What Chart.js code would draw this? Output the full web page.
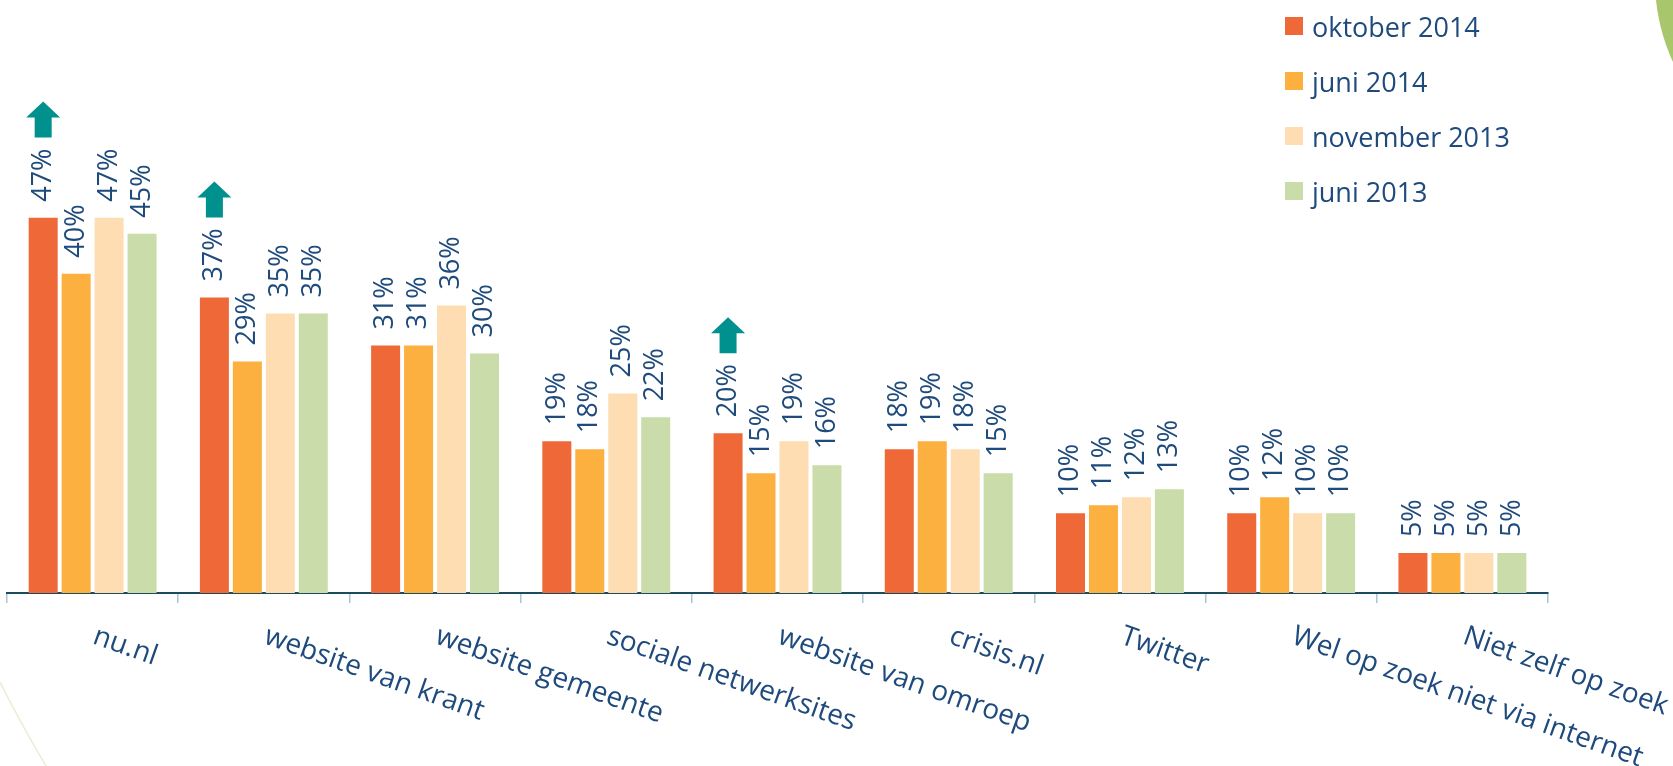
<!DOCTYPE html>
<html>
<head>
<meta charset="utf-8">
<script src="https://cdn.jsdelivr.net/npm/chart.js@4/dist/chart.umd.min.js"></script>
<style>
    html, body { margin: 0; padding: 0; background: #fff; }
    #wrap { position: relative; width: 1673px; height: 766px; overflow: hidden; }
    #legend { position: absolute; left: 1285px; top: 8px; font-family: 'Open Sans', sans-serif; font-size: 27px; color: #1E4A7C; }
    .row { display: flex; align-items: center; height: 36px; margin-bottom: 19px; }
    .box { width: 18px; height: 18px; margin-right: 9px; }
</style>
</head>
<body>
<div id="wrap">
    <canvas id="chart"></canvas>
    <div id="legend"></div>
</div>
<script>
const categories = ['nu.nl', 'website van krant', 'website gemeente', 'sociale netwerksites', 'website van omroep', 'crisis.nl', 'Twitter', 'Wel op zoek niet via internet', 'Niet zelf op zoek'];
const seriesNames = ['oktober 2014', 'juni 2014', 'november 2013', 'juni 2013'];
const okt2014 = [47, 37, 31, 19, 20, 18, 10, 10, 5];
const jun2014 = [40, 29, 31, 18, 15, 19, 11, 12, 5];
const nov2013 = [47, 35, 36, 25, 19, 18, 12, 10, 5];
const jun2013 = [45, 35, 30, 22, 16, 15, 13, 10, 5];
// arrows marking a rise for oktober 2014
const risen = [true, true, false, false, true, false, false, false, false];

const colors = ['#EE6838', '#FBB040', '#FDDDB1', '#C9DCA9'];
const textColor = '#1E4A7C';
const fontFamily = "'Open Sans', sans-serif";

const legend = document.getElementById('legend');
seriesNames.forEach((name, i) => {
    const row = document.createElement('div');
    row.className = 'row';
    row.innerHTML = `<span class="box" style="background:${colors[i]}"></span><span>${name}</span>`;
    legend.appendChild(row);
});

const decorations = {
    id: 'decorations',
    beforeDraw(chart) {
        const ctx = chart.ctx;
        ctx.save();
        ctx.fillStyle = '#A8C66C';
        ctx.beginPath();
        ctx.arc(1851, -20, 196, 0, Math.PI * 2);
        ctx.fill();
        ctx.strokeStyle = '#E6EFD6';
        ctx.lineWidth = 1.5;
        ctx.beginPath();
        ctx.moveTo(0, 682);
        ctx.quadraticCurveTo(20, 722, 46, 766);
        ctx.stroke();
        ctx.restore();
    }
};

const valueLabels = {
    id: 'valueLabels',
    afterDatasetsDraw(chart) {
        const ctx = chart.ctx;
        ctx.save();
        ctx.font = `27px ${fontFamily}`;
        ctx.fillStyle = textColor;
        ctx.textAlign = 'left';
        ctx.textBaseline = 'middle';
        chart.data.datasets.forEach((ds, di) => {
            const meta = chart.getDatasetMeta(di);
            meta.data.forEach((bar, i) => {
                const text = ds.data[i] + '%';
                const w = ctx.measureText(text).width;
                ctx.save();
                ctx.translate(bar.x, bar.y - 16);
                ctx.rotate(-Math.PI / 2);
                ctx.fillText(text, 0, 0);
                ctx.restore();
                if (di === 0 && risen[i]) {
                    drawArrow(ctx, bar.x, bar.y - 16 - w - 11);
                }
            });
        });
        ctx.restore();
    }
};

function drawArrow(ctx, x, bottom) {
    ctx.save();
    ctx.fillStyle = '#00918F';
    ctx.beginPath();
    ctx.moveTo(x - 8.5, bottom);
    ctx.lineTo(x + 8.5, bottom);
    ctx.lineTo(x + 8.5, bottom - 20);
    ctx.lineTo(x + 17, bottom - 20);
    ctx.lineTo(x, bottom - 36);
    ctx.lineTo(x - 17, bottom - 20);
    ctx.lineTo(x - 8.5, bottom - 20);
    ctx.closePath();
    ctx.fill();
    ctx.restore();
}

const categoryLabels = {
    id: 'categoryLabels',
    afterDraw(chart) {
        const ctx = chart.ctx;
        const xs = chart.scales.x;
        ctx.save();
        ctx.font = `28px ${fontFamily}`;
        ctx.fillStyle = textColor;
        ctx.textAlign = 'left';
        ctx.textBaseline = 'alphabetic';
        categories.forEach((label, i) => {
            ctx.save();
            ctx.translate(xs.getPixelForTick(i) - 1, xs.top + 50);
            ctx.rotate(19.5 * Math.PI / 180);
            ctx.fillText(label, 0, 0);
            ctx.restore();
        });
        ctx.restore();
    }
};

const seriesData = [okt2014, jun2014, nov2013, jun2013];

new Chart(document.getElementById('chart'), {
    type: 'bar',
    data: {
        labels: categories,
        datasets: seriesNames.map((name, i) => ({
            label: name,
            data: seriesData[i],
            backgroundColor: colors[i],
            borderWidth: 0,
            categoryPercentage: 0.77,
            barPercentage: 0.88
        }))
    },
    options: {
        responsive: true,
        maintainAspectRatio: false,
        animation: false,
        layout: { padding: { left: 7, right: 125, top: 114, bottom: 163 } },
        plugins: {
            legend: { display: false },
            tooltip: { enabled: false }
        },
        scales: {
            x: {
                grid: { drawOnChartArea: false, drawTicks: true, tickLength: 10, color: '#A9C5D1', lineWidth: 1.5, offset: true },
                border: { display: true, color: '#1B4B5E', width: 2 },
                ticks: { display: false }
            },
            y: { display: false, min: 0, max: 60 }
        }
    },
    plugins: [decorations, valueLabels, categoryLabels]
});
</script>
</body>
</html>
